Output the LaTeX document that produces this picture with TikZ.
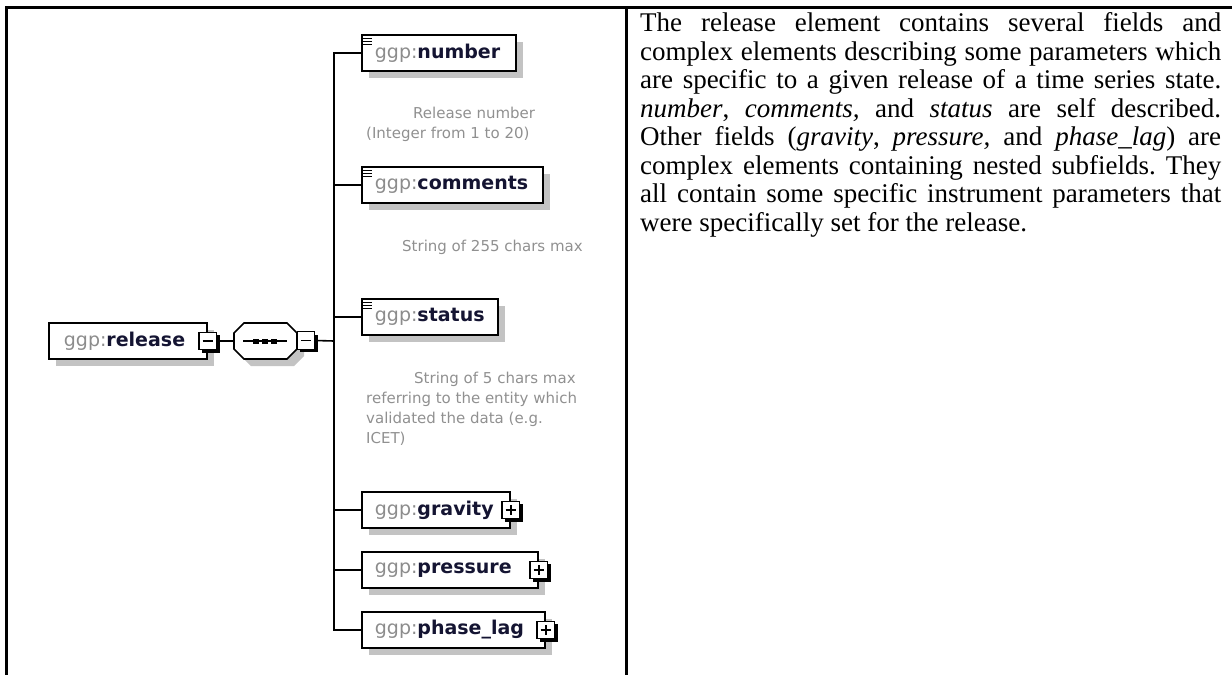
\documentclass[tikz,border=0pt]{standalone}
\usepackage{fontspec}
\setmainfont{Liberation Serif}
\newfontfamily\diagfont{DejaVu Sans}
\usetikzlibrary{shadows}
\definecolor{ggpgray}{HTML}{8C8C8C}
\definecolor{namecol}{HTML}{141432}
\definecolor{anngray}{HTML}{909090}
\definecolor{shadowgray}{HTML}{C3C3C3}
\newcommand{\ggpname}[2]{\makebox[#1][l]{\textcolor{ggpgray}{ggp:}\textcolor{namecol}{\bfseries #2}}}
\begin{document}
\begin{tikzpicture}[x=1pt,y=-1pt,
  frame/.style={line width=2.5pt, black},
  conn/.style={line width=1.6pt, black},
  elbox/.style={draw=black, line width=1.8pt, fill=white, minimum height=36pt,
    inner xsep=13pt, inner ysep=0pt, anchor=west,
    font=\diagfont\fontsize{19}{22}\selectfont,
    general shadow={fill=shadowgray, shadow xshift=7pt, shadow yshift=-7pt}},
  pmbox/.style={draw=black, line width=1.4pt, fill=white, minimum size=17.5pt, inner sep=0pt,
    general shadow={fill=black, shadow xshift=3pt, shadow yshift=-3pt}},
  minusbox/.style={pmbox, path picture={
    \draw[line width=1.4pt] ([xshift=3.5pt]path picture bounding box.west) -- ([xshift=-3.5pt]path picture bounding box.east);}},
  plusbox/.style={pmbox, path picture={
    \draw[line width=1.4pt] ([xshift=3.5pt]path picture bounding box.west) -- ([xshift=-3.5pt]path picture bounding box.east);
    \draw[line width=1.4pt] ([yshift=-3.5pt]path picture bounding box.north) -- ([yshift=3.5pt]path picture bounding box.south);}},
  ann/.style={font=\diagfont\fontsize{15}{20}\selectfont, text=anngray, anchor=base west, inner sep=0pt},
  desc/.style={anchor=north west, text width=581pt, align=justify, inner sep=0pt,
    font=\fontsize{27}{28.5}\selectfont},
  docicon/.style={line width=1.1pt, black}
]
\useasboundingbox (0,0) rectangle (1232,675);

% frame
\draw[frame] (5,7.5) -- (1232,7.5);
\draw[frame] (6.5,6.25) -- (6.5,675);
\draw[frame] (626.5,6.25) -- (626.5,675);

% root element
\node[elbox, inner xsep=15pt] (release) at (48,341) {\ggpname{128pt}{release}};
\node[minusbox] (relminus) at (release.east) {};

% sequence compositor
\node[minimum width=63pt, minimum height=36pt, inner sep=0pt] (seq) at (265.5,341) {};
\begin{scope}[shift={(seq.center)}]
  \fill[shadowgray, shift={(7,7)}] (-31.5,-8) -- (-21.5,-18) -- (21.5,-18) -- (31.5,-8) -- (31.5,8) -- (21.5,18) -- (-21.5,18) -- (-31.5,8) -- cycle;
  \filldraw[fill=white, draw=black, line width=1.6pt] (-31.5,-8) -- (-21.5,-18) -- (21.5,-18) -- (31.5,-8) -- (31.5,8) -- (21.5,18) -- (-21.5,18) -- (-31.5,8) -- cycle;
  \draw[line width=1.5pt] (-22.5,0) -- (21.5,0);
  \fill (-12.5,-2.5) rectangle (-6.5,2.5);
  \fill (-3.5,-2.5) rectangle (2.5,2.5);
  \fill (5.5,-2.5) rectangle (11.5,2.5);
\end{scope}
\node[minusbox] (seqminus) at (306,340.5) {};
\coordinate (tr) at (334,341);

% children
\node[elbox] (number)   at (361,53)  {\ggpname{128pt}{number}};
\node[elbox] (comments) at (361,185) {\ggpname{155pt}{comments}};
\node[elbox] (status)   at (361,317) {\ggpname{110pt}{status}};
\node[elbox] (gravity)  at (361,510) {\ggpname{122pt}{gravity}};
\node[elbox] (pressure) at (361,570) {\ggpname{150pt}{pressure}};
\node[elbox] (phaselag) at (361,630) {\ggpname{157pt}{phase\_lag}};
\node[plusbox] (gravplus) at (gravity.east) {};
\node[plusbox] (presplus) at (pressure.east) {};
\node[plusbox] (phaseplus) at (phaselag.east) {};

\foreach \n in {number,comments,status}{
  \foreach \dy in {4.5,7.5,10.5}{
    \draw[docicon] ([xshift=2pt,yshift=-\dy pt]\n.north west) -- ++(9,0);
  }
}

% connectors
\draw[conn] (relminus.east) -- (seq.west);
\draw[conn] (seqminus.east) -- (tr);
\foreach \n in {number,comments,status,gravity,pressure,phaselag}{
  \draw[conn] (tr) |- (\n.west);
}

% annotations
\node[ann] (a1) at (413,118) {Release number};
\node[ann] (a2) at (366,138) {(Integer from 1 to 20)};
\node[ann] (a3) at (402,251) {String of 255 chars max};
\node[ann] (a4) at (414,383) {String of 5 chars max};
\node[ann] (a5) at (366,403) {referring to the entity which};
\node[ann] (a6) at (366,423) {validated the data (e.g.};
\node[ann] (a7) at (366,443) {ICET)};

% description
\node[desc] (desc) at (640,12.5) {\frenchspacing\hyphenpenalty=10000\tolerance=10000
The release element contains several fields and\linebreak
complex elements describing some parameters which\linebreak
are specific to a given release of a time series state.\linebreak
\textit{number}, \textit{comments,} and \textit{status} are self described.\linebreak
Other fields (\textit{gravity}, \textit{pressure,} and \textit{phase\_lag}) are\linebreak
complex elements containing nested subfields. They\linebreak
all contain some specific instrument parameters that\linebreak
were specifically set for the release.};
\end{tikzpicture}
\end{document}
